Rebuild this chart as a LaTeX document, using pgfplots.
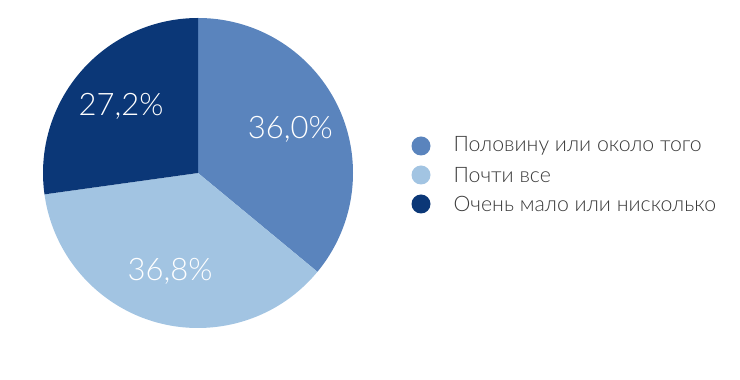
\documentclass[border=0pt]{standalone}
\usepackage{fontspec}
\setmainfont{Lato}[UprightFont={* Light}]
\usepackage{pgfplots}
\usepackage{pgfplotstable}
\usetikzlibrary{calc}
\pgfplotsset{compat=1.18}
\definecolor{cA}{HTML}{5A84BD}
\definecolor{cB}{HTML}{A2C4E2}
\definecolor{cC}{HTML}{0B3777}
\definecolor{txt}{HTML}{3A3A3A}
\pgfplotstableread{
label value
Half 36.0
Almost 36.8
Few 27.2
}\piedata
\begin{document}
\begin{tikzpicture}
\begin{axis}[
  width=740pt, height=380pt, scale only axis,
  xmin=0, xmax=740, ymin=0, ymax=380,
  hide axis, clip=false,
  /pgf/number format/assume math mode=true,
]
\addplot[draw=none] coordinates {(0,0) (740,380)};
\pgfplotsextra{%
  \gdef\cum{0}%
  \foreach \i/\col in {0/cA,1/cB,2/cC}{%
    \pgfplotstablegetelem{\i}{value}\of\piedata
    \let\v\pgfplotsretval
    \pgfmathsetmacro\sa{90-3.6*\cum}%
    \pgfmathsetmacro\ea{90-3.6*(\cum+\v)}%
    \pgfmathsetmacro\ma{(\sa+\ea)/2}%
    \fill[\col] (axis cs:198,207) -- ++(\sa:155pt) arc[start angle=\sa, end angle=\ea, radius=155pt] -- cycle;
    \node[white, font=\fontsize{31}{31}\selectfont] at ($(axis cs:198,207)+(\ma:102pt)$) {\pgfmathprintnumber[fixed,fixed zerofill,precision=1,use comma]{\v}\%};
    \pgfmathsetmacro\nc{\cum+\v}\xdef\cum{\nc}%
  }%
  \fill[cA] (axis cs:421,234) circle[radius=9.5pt];
  \fill[cB] (axis cs:421,205) circle[radius=9.5pt];
  \fill[cC] (axis cs:421,176) circle[radius=9.5pt];
  \node[anchor=west, txt, font=\fontsize{21.3}{21.3}\selectfont] at (axis cs:450,234) {Половину или около того};
  \node[anchor=west, txt, font=\fontsize{21.3}{21.3}\selectfont] at (axis cs:450,205) {Почти все};
  \node[anchor=west, txt, font=\fontsize{21.3}{21.3}\selectfont] at (axis cs:450,176) {Очень мало или нисколько};
}
\end{axis}
\end{tikzpicture}
\end{document}
